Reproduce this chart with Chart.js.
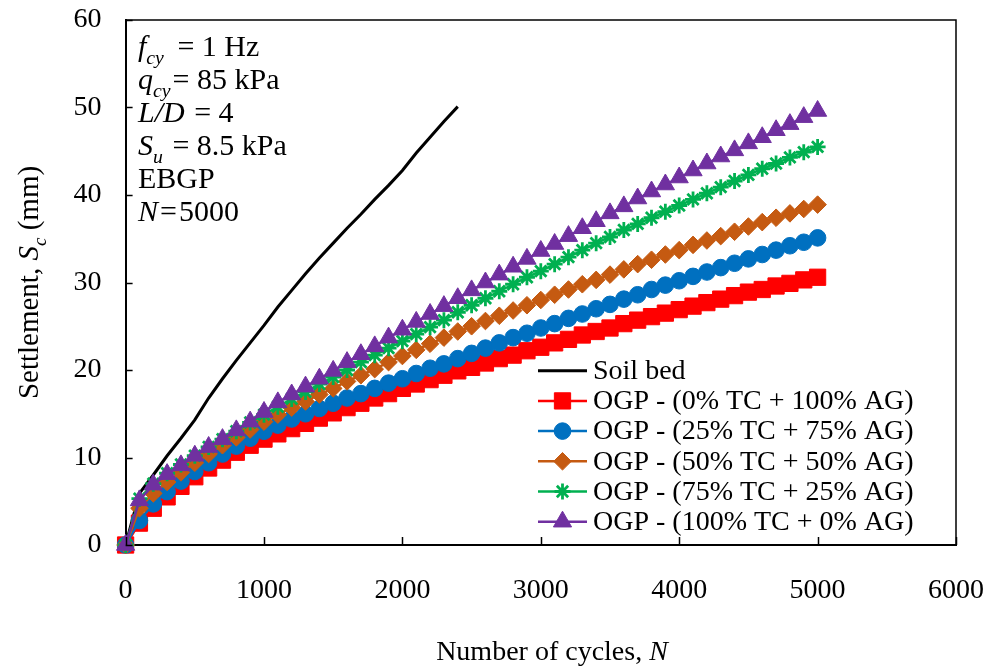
<!DOCTYPE html>
<html><head><meta charset="utf-8">
<script src="https://cdn.jsdelivr.net/npm/chart.js@4.4.1/dist/chart.umd.min.js"></script>
<style>html,body{margin:0;padding:0;background:#fff;}#wrap{width:987px;height:670px;}</style>
</head><body><div id="wrap"><canvas id="c" width="987" height="670"></canvas></div>
<script>
// ---- data ----
const cycles = [0,100,200,300,400,500,600,700,800,900,1000,1100,1200,1300,1400,1500,1600,1700,1800,1900,2000,2100,2200,2300,2400,2500,2600,2700,2800,2900,3000,3100,3200,3300,3400,3500,3600,3700,3800,3900,4000,4100,4200,4300,4400,4500,4600,4700,4800,4900,5000];
const soilCycles = [0,100,200,300,400,500,600,700,800,900,1000,1100,1200,1300,1400,1500,1600,1700,1800,1900,2000,2100,2200,2300,2400];
const soilBed = [0,5.9,8.0,10.2,12.2,14.3,16.8,19.0,21.1,23.1,25.1,27.2,29.1,31.0,32.8,34.5,36.2,37.8,39.5,41.1,42.8,44.8,46.6,48.4,50.1];
const ogp0tc = [0,2.5,4.2,5.5,6.7,7.8,8.8,9.7,10.6,11.4,12.1,12.7,13.3,13.9,14.5,15.1,15.7,16.2,16.8,17.3,17.9,18.4,18.9,19.4,19.9,20.3,20.8,21.3,21.7,22.2,22.6,23.1,23.5,24.0,24.4,24.8,25.3,25.7,26.1,26.5,26.9,27.3,27.7,28.1,28.5,28.9,29.2,29.6,29.9,30.3,30.6];
const ogp25tc = [0,2.8,4.7,6.1,7.3,8.4,9.4,10.4,11.3,12.2,13.0,13.7,14.4,15.0,15.6,16.2,16.8,17.3,17.9,18.5,19.0,19.6,20.2,20.7,21.3,21.9,22.5,23.1,23.7,24.2,24.8,25.3,25.9,26.4,27.0,27.5,28.1,28.6,29.2,29.7,30.2,30.7,31.2,31.7,32.2,32.7,33.2,33.7,34.2,34.6,35.1];
const ogp50tc = [0,4.2,5.9,7.2,8.3,9.4,10.4,11.4,12.3,13.2,14.1,14.9,15.7,16.4,17.2,17.9,18.7,19.4,20.1,20.9,21.6,22.3,23.0,23.7,24.4,25.0,25.6,26.2,26.8,27.4,28.0,28.6,29.2,29.8,30.3,30.9,31.5,32.1,32.6,33.2,33.7,34.3,34.8,35.3,35.8,36.4,36.9,37.4,37.9,38.4,38.9];
const ogp75tc = [0,5.3,7.0,8.2,9.2,10.2,11.2,12.1,13.0,14.0,14.9,15.8,16.7,17.5,18.4,19.2,20.0,20.9,21.7,22.5,23.3,24.1,24.9,25.7,26.6,27.4,28.2,29.0,29.8,30.6,31.3,32.1,32.9,33.7,34.5,35.2,36.0,36.7,37.4,38.1,38.8,39.5,40.2,40.9,41.6,42.3,43.0,43.6,44.3,44.9,45.5];
const ogp100tc = [0,5.1,6.9,8.1,9.1,10.2,11.2,12.1,13.1,14.1,15.2,16.3,17.2,18.1,19.0,19.9,20.9,21.8,22.7,23.7,24.6,25.5,26.4,27.3,28.2,29.1,30.0,30.9,31.8,32.7,33.6,34.4,35.3,36.2,37.0,37.9,38.7,39.6,40.4,41.2,42.0,42.8,43.6,44.4,45.1,45.9,46.6,47.4,48.1,48.9,49.6];
const seriesLabels = ['Soil bed','OGP - (0% TC + 100% AG)','OGP - (25% TC + 75% AG)','OGP - (50% TC + 50% AG)','OGP - (75% TC + 25% AG)','OGP - (100% TC + 0% AG)'];
const xTicks = [0,1000,2000,3000,4000,5000,6000];
const yTicks = [0,10,20,30,40,50,60];

const FONT = "'Times New Roman', 'Liberation Serif', serif";
const pts = (xs, ys) => ys.map((v, i) => ({x: xs[i], y: v}));

const styles = [
  {color:'#000000', pointStyle:false, radius:0, width:3},
  {color:'#FF0000', pointStyle:'rect', radius:11.5, width:2.5},
  {color:'#0070C0', pointStyle:'circle', radius:8.3, width:2.5},
  {color:'#C55A11', pointStyle:'rectRot', radius:8.8, width:2.5},
  {color:'#00B050', pointStyle:'star', radius:8, width:2.5, pbw:2.8},
  {color:'#7030A0', pointStyle:'triangle', radius:10.5, width:2.5}
];
const dataArrays = [pts(soilCycles, soilBed), pts(cycles, ogp0tc), pts(cycles, ogp25tc), pts(cycles, ogp50tc), pts(cycles, ogp75tc), pts(cycles, ogp100tc)];

const datasets = dataArrays.map((d, i) => ({
  label: seriesLabels[i],
  data: d,
  borderColor: styles[i].color,
  backgroundColor: styles[i].color,
  borderWidth: styles[i].width,
  pointStyle: styles[i].pointStyle || 'circle',
  pointRadius: styles[i].radius,
  pointBorderWidth: styles[i].pbw || 1,
  pointBorderColor: styles[i].color,
  pointBackgroundColor: styles[i].color,
  tension: 0,
  clip: false,
  order: 6 - i
}));

function rich(ctx, x, y, parts, size, align) {
  const setF = p => { const s = p.sub ? size * 0.66 : size; ctx.font = (p.i ? 'italic ' : '') + s + 'px ' + FONT; };
  let w = 0;
  parts.forEach(p => { setF(p); w += ctx.measureText(p.t).width + (p.g || 0); });
  let cx = align === 'center' ? x - w / 2 : x;
  ctx.textAlign = 'left';
  ctx.textBaseline = 'alphabetic';
  parts.forEach(p => { setF(p); ctx.fillText(p.t, cx, y + (p.sub ? size * 0.28 : 0)); cx += ctx.measureText(p.t).width + (p.g || 0); });
}

function marker(ctx, st, x, y) {
  ctx.save();
  ctx.fillStyle = st.color; ctx.strokeStyle = st.color;
  ctx.lineWidth = st.pbw || 1;
  if (Chart.helpers && Chart.helpers.drawPoint) {
    Chart.helpers.drawPoint(ctx, {pointStyle: st.pointStyle, radius: st.radius, borderWidth: st.pbw || 1, rotation: 0}, x, y);
  }
  ctx.restore();
}

const extras = {
  id: 'extras',
  afterDraw(chart) {
    const ctx = chart.ctx;
    const {left, right, top, bottom} = chart.chartArea;
    const xs = chart.scales.x, ys = chart.scales.y;
    ctx.save();
    ctx.strokeStyle = '#000';
    // top & right border
    ctx.lineWidth = 1.5;
    ctx.beginPath();
    ctx.moveTo(left, top); ctx.lineTo(right, top); ctx.lineTo(right, bottom);
    ctx.stroke();
    // inward ticks
    ctx.lineWidth = 1.5;
    xTicks.forEach(v => {
      const px = Math.round(xs.getPixelForValue(v)) + 0.5;
      ctx.beginPath(); ctx.moveTo(px, bottom); ctx.lineTo(px, bottom - 8); ctx.stroke();
    });
    yTicks.forEach(v => {
      const py = Math.round(ys.getPixelForValue(v)) + 0.5;
      ctx.beginPath(); ctx.moveTo(left, py); ctx.lineTo(left + 7, py); ctx.stroke();
    });
    ctx.fillStyle = '#000';
    // annotation
    const ann = [
      [{t:'f',i:1},{t:'cy',i:1,sub:1,g:6},{t:' = 1 Hz'}],
      [{t:'q',i:1},{t:'cy',i:1,sub:1,g:2},{t:'= 85 kPa'}],
      [{t:'L/D',i:1,g:2},{t:' = 4'}],
      [{t:'S',i:1},{t:'u',i:1,sub:1,g:2},{t:' = 8.5 kPa'}],
      [{t:'EBGP'}],
      [{t:'N',i:1,g:2},{t:'=',g:2},{t:'5000'}]
    ];
    ann.forEach((line, k) => rich(ctx, 138, 56 + k * 33, line, 30, 'left'));
    // axis titles
    rich(ctx, 552, 660, [{t:'Number of cycles, '},{t:'N',i:1}], 28, 'center');
    ctx.save();
    ctx.translate(38, (top + bottom) / 2);
    ctx.rotate(-Math.PI / 2);
    rich(ctx, 0, 0, [{t:'Settlement, '},{t:'S',i:1},{t:'c',i:1,sub:1},{t:' (mm)'}], 29, 'center');
    ctx.restore();
    // legend
    const ly0 = 370.7, lstep = 30.2;
    styles.forEach((st, i) => {
      const y = ly0 + i * lstep;
      ctx.strokeStyle = st.color; ctx.lineWidth = st.width;
      ctx.beginPath(); ctx.moveTo(538, y); ctx.lineTo(587, y); ctx.stroke();
      if (st.pointStyle) marker(ctx, st, 562.5, y);
      ctx.fillStyle = '#000';
      ctx.font = '28px ' + FONT;
      ctx.textAlign = 'left'; ctx.textBaseline = 'middle';
      ctx.fillText(seriesLabels[i], 593, y + 1);
    });
    ctx.restore();
  }
};

Chart.defaults.font.family = FONT;
Chart.defaults.font.size = 28;
Chart.defaults.color = '#000';

new Chart(document.getElementById('c'), {
  type: 'line',
  data: {datasets},
  options: {
    responsive: false,
    devicePixelRatio: 1,
    animation: false,
    layout: {padding: {left: 0, right: 31, top: 20, bottom: 0}},
    plugins: {legend: {display: false}, tooltip: {enabled: false}},
    scales: {
      x: {
        type: 'linear', min: 0, max: 6000,
        afterBuildTicks: s => { s.ticks = xTicks.map(v => ({value: v})); },
        afterFit: s => { s.height = 125; s.paddingLeft = 0; s.paddingRight = 0; },
        grid: {display: false, drawTicks: false},
        border: {display: true, color: '#000', width: 2},
        ticks: {padding: 29, maxRotation: 0, autoSkip: false, font: {size: 28}, callback: v => String(v)}
      },
      y: {
        type: 'linear', min: 0, max: 60,
        afterBuildTicks: s => { s.ticks = yTicks.map(v => ({value: v})); },
        afterFit: s => { s.width = 125.6; s.paddingTop = 0; s.paddingBottom = 0; },
        grid: {display: false, drawTicks: false},
        border: {display: true, color: '#000', width: 2},
        ticks: {padding: 24, font: {size: 28}, callback: v => String(v)}
      }
    }
  },
  plugins: [extras]
});
</script>
</body></html>
